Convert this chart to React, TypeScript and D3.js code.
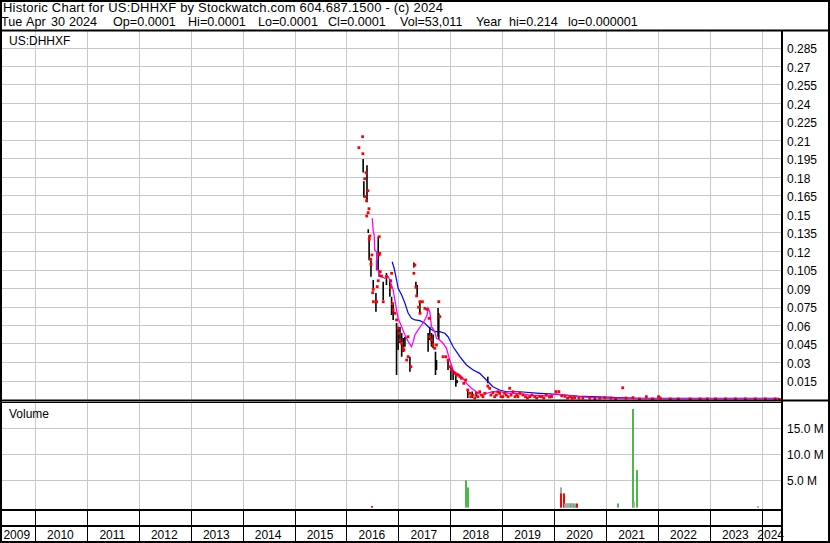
import React from "react";
import * as d3 from "d3";

const header1 = "Historic Chart for US:DHHXF by Stockwatch.com 604.687.1500 - (c) 2024";
const header2Words = ["Tue", "Apr", "30", "2024", "Op=0.0001", "Hi=0.0001", "Lo=0.0001", "Cl=0.0001", "Vol=53,011", "Year", "hi=0.214", "lo=0.000001"];
const symbolLabel = "US:DHHXF";
const volumeLabel = "Volume";

const years = [2009, 2010, 2011, 2012, 2013, 2014, 2015, 2016, 2017, 2018, 2019, 2020, 2021, 2022, 2023, 2024];
const priceTicks = [0.015, 0.03, 0.045, 0.06, 0.075, 0.09, 0.105, 0.12, 0.135, 0.15, 0.165, 0.18, 0.195, 0.21, 0.225, 0.24, 0.255, 0.27, 0.285];
const priceTickLabels = ["0.015", "0.03", "0.045", "0.06", "0.075", "0.09", "0.105", "0.12", "0.135", "0.15", "0.165", "0.18", "0.195", "0.21", "0.225", "0.24", "0.255", "0.27", "0.285"];
const volTicks = [5e6, 10e6, 15e6];
const volTickLabels = ["5.0 M", "10.0 M", "15.0 M"];

// high-low bars
const barDates = ["2016-04-24", "2016-04-29", "2016-05-21", "2016-05-30", "2016-06-05", "2016-06-18", "2016-07-04", "2016-07-23", "2016-07-28", "2016-08-08", "2016-08-15", "2016-09-12", "2016-10-05", "2016-10-29", "2016-11-10", "2016-11-21", "2016-12-15", "2016-12-26", "2017-01-08", "2017-01-20", "2017-01-31", "2017-02-12", "2017-03-19", "2017-04-16", "2017-04-30", "2017-05-09", "2017-05-28", "2017-07-25", "2017-08-06", "2017-08-18", "2017-08-29", "2017-09-15", "2017-09-22", "2017-10-03", "2017-10-08", "2017-12-12", "2018-01-01", "2018-01-17", "2018-02-05", "2018-02-14", "2018-04-30", "2018-05-31", "2018-06-28", "2018-09-18"];
const barHigh = [0.195, 0.177, 0.19, 0.138, 0.133, 0.113, 0.0969, 0.0864, 0.113, 0.132, 0.105, 0.0955, 0.1026, 0.0969, 0.0834, 0.0782, 0.062, 0.059, 0.0588, 0.0539, 0.0499, 0.0509, 0.0347, 0.111, 0.0955, 0.0928, 0.0782, 0.0539, 0.059, 0.0539, 0.0528, 0.0388, 0.032, 0.0742, 0.0699, 0.032, 0.0266, 0.0239, 0.0215, 0.0158, 0.0077, 0.0064, 0.0064, 0.0185];
const barLow = [0.184, 0.164, 0.16, 0.135, 0.113, 0.0996, 0.0904, 0.0712, 0.105, 0.105, 0.0996, 0.0807, 0.0928, 0.0834, 0.0685, 0.0645, 0.0199, 0.0401, 0.0458, 0.0347, 0.0385, 0.0428, 0.0225, 0.107, 0.0902, 0.0847, 0.0701, 0.0388, 0.0482, 0.0428, 0.0415, 0.0199, 0.0239, 0.0509, 0.0482, 0.0239, 0.0158, 0.0158, 0.0104, 0.0131, 0.0012, 0.0012, 0.0023, 0.0131];

// close marks
const closeDates = ["2016-03-25", "2016-04-20", "2016-04-22", "2016-05-05", "2016-05-07", "2016-05-14", "2016-05-18", "2016-05-19", "2016-05-28", "2016-05-29", "2016-06-04", "2016-06-06", "2016-06-11", "2016-06-16", "2016-06-18", "2016-06-25", "2016-06-30", "2016-07-04", "2016-07-05", "2016-07-28", "2016-08-01", "2016-08-08", "2016-08-14", "2016-08-15", "2016-08-19", "2016-08-22", "2016-08-31", "2016-09-12", "2016-10-05", "2016-11-02", "2016-11-03", "2016-11-10", "2016-11-17", "2016-11-21", "2016-12-03", "2016-12-15", "2016-12-26", "2017-01-03", "2017-01-08", "2017-01-20", "2017-01-31", "2017-02-05", "2017-02-24", "2017-03-06", "2017-03-07", "2017-03-26", "2017-04-16", "2017-04-23", "2017-04-30", "2017-05-05", "2017-05-19", "2017-05-28", "2017-05-29", "2017-06-15", "2017-07-02", "2017-07-18", "2017-08-01", "2017-08-06", "2017-08-18", "2017-08-29", "2017-09-10", "2017-09-22", "2017-10-08", "2017-10-15", "2017-11-07", "2017-11-26", "2017-12-12", "2017-12-24", "2018-01-06", "2018-01-29", "2018-02-10", "2018-02-21", "2018-03-05", "2018-03-17", "2018-04-02", "2018-04-16", "2018-04-30", "2018-05-14", "2018-05-21", "2018-06-06", "2018-06-18", "2018-06-30", "2018-07-10", "2018-07-23", "2018-08-05", "2018-08-15", "2018-08-28", "2018-09-18", "2018-10-01", "2018-10-10", "2018-10-24", "2018-11-05", "2018-11-17", "2018-11-28", "2018-12-10", "2018-12-20", "2019-01-02", "2019-01-14", "2019-01-26", "2019-02-08", "2019-02-19", "2019-03-01", "2019-03-14", "2019-03-28", "2019-04-10", "2019-04-18", "2019-05-02", "2019-05-23", "2019-06-10", "2019-06-24", "2019-07-10", "2019-07-25", "2019-08-14", "2019-08-28", "2019-09-17", "2019-10-02", "2019-10-17", "2019-11-03", "2019-11-26", "2019-12-10", "2020-01-10", "2020-01-31", "2020-02-20", "2020-03-13", "2020-04-01", "2020-04-17", "2020-05-05", "2020-05-22", "2020-06-20", "2020-07-17", "2020-09-04", "2020-10-10", "2020-11-13", "2020-12-18", "2021-01-31", "2021-03-05", "2021-04-24", "2021-05-17", "2021-07-05", "2021-08-20", "2021-10-07", "2021-11-20", "2022-01-01", "2022-01-13", "2022-03-24", "2022-05-20", "2022-08-11", "2022-10-20", "2022-12-10", "2023-02-06", "2023-04-17", "2023-06-26", "2023-09-04", "2023-11-13", "2024-01-22", "2024-04-01", "2024-04-30"];
const closeVals = [0.2042, 0.2131, 0.1993, 0.179, 0.1644, 0.1839, 0.1612, 0.1488, 0.1693, 0.1515, 0.1547, 0.1299, 0.1326, 0.1137, 0.1096, 0.1172, 0.0866, 0.0893, 0.0793, 0.0793, 0.0915, 0.0963, 0.1172, 0.132, 0.1185, 0.1036, 0.1001, 0.0793, 0.0999, 0.091, 0.0963, 0.1023, 0.0777, 0.0726, 0.0699, 0.0645, 0.0578, 0.0537, 0.0482, 0.0455, 0.0415, 0.0401, 0.032, 0.0509, 0.0347, 0.0266, 0.1023, 0.109, 0.0911, 0.084, 0.0748, 0.0793, 0.0699, 0.0793, 0.0739, 0.0731, 0.0658, 0.0509, 0.0482, 0.0442, 0.0415, 0.0442, 0.0793, 0.0672, 0.0347, 0.0347, 0.032, 0.0266, 0.0239, 0.0212, 0.0199, 0.0199, 0.0185, 0.0172, 0.0131, 0.0158, 0.0077, 0.005, 0.0023, 0.0036, 0.0012, 0.005, 0.0023, 0.0063, 0.0036, 0.0023, 0.005, 0.0109, 0.0091, 0.0036, 0.0055, 0.0023, 0.0036, 0.0063, 0.005, 0.0023, 0.0023, 0.005, 0.0036, 0.0023, 0.0091, 0.0036, 0.0063, 0.0023, 0.0036, 0.0023, 0.005, 0.0036, 0.0023, 0.0012, 0.0023, 0.0036, 0.0023, 0.0012, 0.0025, 0.0023, 0.0012, 0.0036, 0.002, 0.0023, 0.0064, 0.0064, 0.003, 0.0025, 0.0012, 0.002, 0.0012, 0.0015, 0.0012, 0.0012, 0.0012, 0.0008, 0.0012, 0.0015, 0.0012, 0.0005, 0.0095, 0.0012, 0.0015, 0.0005, 0.0023, 0.0005, 0.0023, 0.0012, 0.0005, 0.0005, 0.0005, 0.0005, 0.0005, 0.0005, 0.0005, 0.0005, 0.0005, 0.0005, 0.0005, 0.0005, 0.0001];

// short moving average (magenta)
const maShortDates = ["2016-06-27", "2016-07-04", "2016-07-11", "2016-07-14", "2016-07-27", "2016-07-30", "2016-08-08", "2016-08-20", "2016-08-31", "2016-09-24", "2016-10-17", "2016-10-29", "2016-11-10", "2016-11-21", "2016-12-03", "2016-12-15", "2016-12-26", "2017-01-20", "2017-02-12", "2017-03-07", "2017-03-31", "2017-04-11", "2017-04-23", "2017-05-16", "2017-06-09", "2017-07-02", "2017-07-18", "2017-07-25", "2017-08-06", "2017-08-18", "2017-09-10", "2017-09-22", "2017-10-15", "2017-11-07", "2017-12-01", "2017-12-24", "2018-01-17", "2018-02-10", "2018-03-05", "2018-03-28", "2018-04-21", "2018-05-26", "2018-06-30", "2018-08-04", "2018-09-08", "2018-10-24", "2018-12-10", "2019-02-19", "2019-04-30", "2019-07-10", "2019-11-26", "2020-01-10", "2020-03-13", "2020-06-12", "2020-11-13", "2021-04-05", "2021-11-01", "2024-04-30"];
const maShortVals = [0.1469, 0.1361, 0.1334, 0.1212, 0.1198, 0.105, 0.105, 0.1009, 0.0996, 0.0983, 0.0996, 0.0969, 0.0928, 0.0888, 0.0807, 0.0726, 0.0658, 0.059, 0.0523, 0.0469, 0.0428, 0.0469, 0.0523, 0.0564, 0.0604, 0.0645, 0.0685, 0.074, 0.0712, 0.059, 0.055, 0.0496, 0.0482, 0.0456, 0.0415, 0.032, 0.0239, 0.0212, 0.0199, 0.0172, 0.0131, 0.0091, 0.0063, 0.0036, 0.005, 0.0063, 0.0063, 0.005, 0.005, 0.0036, 0.003, 0.0045, 0.0035, 0.0023, 0.0012, 0.001, 0.0005, 0.0005];

// long moving average (blue)
const maLongDates = ["2016-11-14", "2016-11-28", "2016-12-15", "2016-12-26", "2017-01-20", "2017-02-12", "2017-03-07", "2017-03-31", "2017-04-23", "2017-05-28", "2017-07-02", "2017-08-06", "2017-09-10", "2017-10-15", "2017-11-19", "2017-12-12", "2018-01-17", "2018-03-05", "2018-04-21", "2018-06-07", "2018-07-23", "2018-09-08", "2018-10-24", "2018-12-10", "2019-01-26", "2019-04-30", "2019-09-17", "2019-11-26", "2020-06-12", "2021-03-22", "2021-08-24", "2024-04-30"];
const maLongVals = [0.1117, 0.1064, 0.0969, 0.0902, 0.0847, 0.078, 0.0699, 0.0658, 0.0645, 0.0639, 0.0618, 0.0577, 0.055, 0.055, 0.0537, 0.0509, 0.0428, 0.0347, 0.028, 0.0239, 0.0212, 0.0158, 0.0104, 0.0077, 0.0063, 0.0063, 0.005, 0.0045, 0.0028, 0.0016, 0.001, 0.001];

// volume
const volDates = ["2016-06-25", "2018-04-18", "2018-05-02", "2020-02-14", "2020-02-16", "2020-03-06", "2020-03-13", "2020-03-20", "2020-03-27", "2020-04-03", "2020-04-10", "2020-04-17", "2020-04-24", "2020-05-01", "2020-05-08", "2020-05-15", "2020-05-22", "2020-05-29", "2020-06-05", "2021-03-24", "2021-07-08", "2021-07-09", "2021-08-05", "2023-12-04"];
const volVals = [150000, 5060000, 3700000, 3700000, 2560000, 2560000, 630000, 630000, 630000, 630000, 630000, 630000, 630000, 630000, 630000, 630000, 630000, 250000, 630000, 630000, 18700000, 1000000, 7000000, 100000];
const volDir = ["down", "up", "up", "flat", "down", "down", "flat", "flat", "flat", "flat", "flat", "flat", "up", "flat", "flat", "up", "flat", "up", "down", "up", "up", "flat", "up", "up"];

const FONT = "'Liberation Sans', Arial, sans-serif";

export default function App() {
  const parse = d3.timeParse("%Y-%m-%d");
  const W = 830;
  const H = 543;
  const plotL = 2;
  const plotR = 781;
  const priceTop = 31;
  const priceBot = 399.5;
  const volTop = 403;
  const volBot = 507.8;

  const x = d3.scaleTime().domain([new Date(2010, 0, 1), new Date(2024, 0, 1)]).range([35.5, 762.3]);
  const yP = d3.scaleLinear().domain([0, 0.285]).range([399.5, 48]);
  const yV = d3.scaleLinear().domain([0, 15e6]).range([506.8, 428.3]);

  const px = (s: string) => x(parse(s) as Date);
  const snap = (v: number) => Math.round(v) + 0.5;

  const yearStarts = years.map((y) => x(new Date(y, 0, 1)));
  const yearEnds = years.map((y) => x(new Date(y + 1, 0, 1)));
  const gridYears = years.slice(1).map((y) => snap(x(new Date(y, 0, 1)) - 0.5));

  const lineShort = d3
    .line<number>()
    .x((_, i) => px(maShortDates[i]))
    .y((v) => yP(v));
  const lineLong = d3
    .line<number>()
    .x((_, i) => px(maLongDates[i]))
    .y((v) => yP(v));

  const volColor = (d: string) => (d === "up" ? "#4cb848" : d === "down" ? "#ff0000" : "#a8a8a8");

  const header2X = [1, 26, 51, 69, 113, 188, 258, 328, 400, 476, 509, 568];

  return (
    <svg width={W} height={H} style={{ position: "absolute", left: 0, top: 0, background: "#fff" }} fontFamily={FONT}>
      <defs>
        <clipPath id="priceClip">
          <rect x={plotL} y={priceTop} width={plotR - plotL} height={priceBot - priceTop + 1} />
        </clipPath>
        <clipPath id="volClip">
          <rect x={plotL} y={volTop} width={plotR - plotL} height={volBot - volTop} />
        </clipPath>
      </defs>
      <rect x={0} y={0} width={W} height={H} fill="#fff" />

      {/* grid: price */}
      {priceTicks.map((t) => (
        <line key={"pg" + t} x1={plotL} x2={plotR} y1={snap(yP(t) - 0.5)} y2={snap(yP(t) - 0.5)} stroke="#c8c8c8" strokeWidth={1} />
      ))}
      {gridYears.map((gx, i) => (
        <line key={"pv" + i} x1={gx} x2={gx} y1={priceTop} y2={priceBot} stroke="#c8c8c8" strokeWidth={1} />
      ))}
      {/* grid: volume */}
      {volTicks.map((t) => (
        <line key={"vg" + t} x1={plotL} x2={plotR} y1={snap(yV(t) - 0.5)} y2={snap(yV(t) - 0.5)} stroke="#c8c8c8" strokeWidth={1} />
      ))}
      {gridYears.map((gx, i) => (
        <line key={"vv" + i} x1={gx} x2={gx} y1={volTop} y2={509} stroke="#c8c8c8" strokeWidth={1} />
      ))}

      {/* price marks */}
      <g clipPath="url(#priceClip)">
        {barDates.map((d, i) => (
          <line key={"b" + i} x1={px(d)} x2={px(d)} y1={yP(barHigh[i])} y2={yP(barLow[i])} stroke="#000" strokeWidth={1.6} />
        ))}
        <path d={lineLong(maLongVals) || ""} fill="none" stroke="#0000ff" strokeWidth={1.2} />
        <path d={lineShort(maShortVals) || ""} fill="none" stroke="#ff00ff" strokeWidth={1.3} />
        {closeDates.map((d, i) => (
          <rect key={"c" + i} x={px(d) - 1.4} y={yP(closeVals[i]) - 1.4} width={2.8} height={2.8} fill="#ff0000" />
        ))}
      </g>

      {/* volume bars */}
      <g clipPath="url(#volClip)">
        {volDates.map((d, i) => (
          <rect key={"v" + i} x={Math.round(px(d)) - 1} y={yV(volVals[i])} width={2} height={volBot - yV(volVals[i])} fill={volColor(volDir[i])} />
        ))}
      </g>

      {/* frame */}
      <rect x={1} y={1} width={W - 2} height={H - 2} fill="none" stroke="#000" strokeWidth={2} />
      <line x1={0} x2={W} y1={30.5} y2={30.5} stroke="#000" strokeWidth={2} />
      <line x1={782} x2={782} y1={30} y2={H} stroke="#000" strokeWidth={2} />
      <line x1={0} x2={W} y1={400.5} y2={400.5} stroke="#000" strokeWidth={2} />
      <line x1={0} x2={782} y1={402.5} y2={402.5} stroke="#000" strokeWidth={1} />
      <line x1={0} x2={782} y1={510} y2={510} stroke="#000" strokeWidth={2} />
      <line x1={0} x2={782} y1={526} y2={526} stroke="#000" strokeWidth={2} />
      {gridYears.map((gx, i) => (
        <line key={"av" + i} x1={gx} x2={gx} y1={511} y2={541} stroke="#000" strokeWidth={1} />
      ))}

      {/* header texts */}
      <text x={3} y={12} fontSize={13} textLength={440} lengthAdjust="spacing" fill="#000">{header1}</text>
      {header2Words.map((t, i) => (
        <text key={"h2" + i} x={header2X[i]} y={26} fontSize={12.6} fill="#000">{t}</text>
      ))}
      <text x={9} y={45} fontSize={12} fill="#000">{symbolLabel}</text>
      <text x={9} y={418} fontSize={12} fill="#000">{volumeLabel}</text>

      {/* price axis labels */}
      {priceTicks.map((t, i) => (
        <text key={"pl" + t} x={787} y={yP(t) + 5} fontSize={12} fill="#000">{priceTickLabels[i]}</text>
      ))}
      {volTicks.map((t, i) => (
        <text key={"vl" + t} x={787} y={yV(t) + 4.5} fontSize={12} fill="#000">{volTickLabels[i]}</text>
      ))}

      {/* year labels */}
      {years.map((y, i) => {
        const a = Math.max(yearStarts[i], 0);
        const b = Math.min(yearEnds[i], 781);
        return (
          <text key={"y" + y} x={(a + b) / 2 - 1} y={539} fontSize={12} textAnchor="middle" fill="#000">{y}</text>
        );
      })}
    </svg>
  );
}
